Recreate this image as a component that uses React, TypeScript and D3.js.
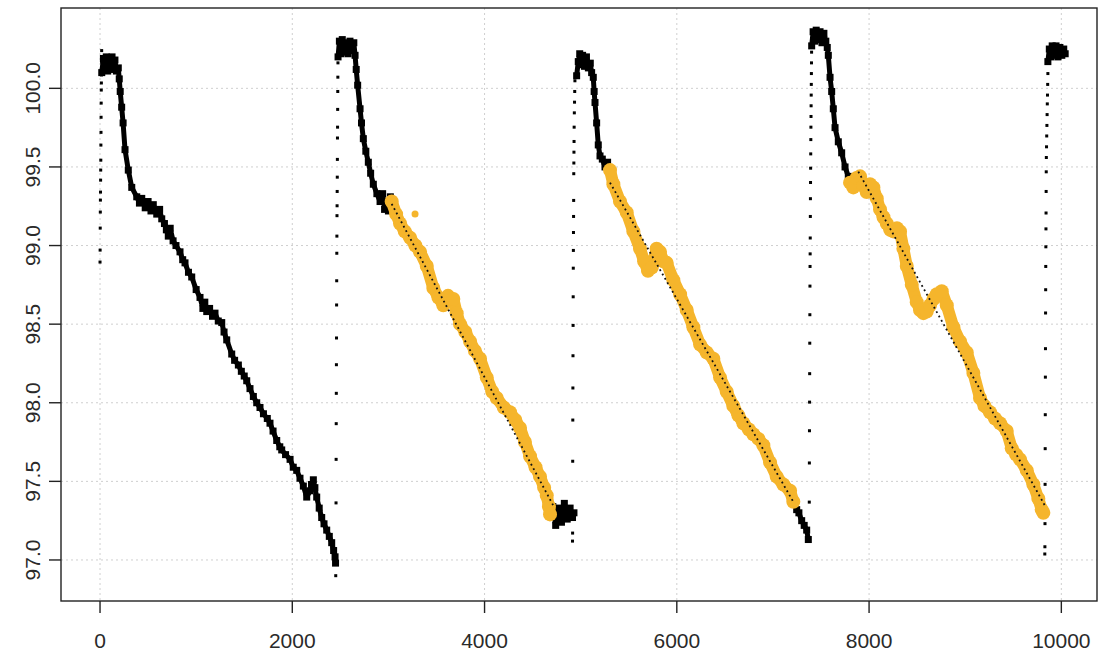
import React from "react";
import * as d3 from "d3";

// ---- tick values ----
const xTicks = [0, 2000, 4000, 6000, 8000, 10000];
const yTicks = [97.0, 97.5, 98.0, 98.5, 99.0, 99.5, 100.0];

// ---- sparse rising points (fast transitions) ----
const rise1: [number, number][] = [
  [0, 98.895], [1, 98.971], [2, 99.111], [3, 99.213], [4, 99.289], [5, 99.34], [6, 99.416], [7, 99.48],
  [8, 99.543], [9, 99.639], [10, 99.72], [11, 99.816], [12, 99.906], [13, 99.989], [14, 100.034],
  [15, 100.085], [16, 100.129], [17, 100.167], [17, 100.24],
];
const rise2: [number, number][] = [
  [2452, 96.9], [2455, 97.363], [2456, 97.64], [2457, 97.867], [2458, 98.06], [2459, 98.242],
  [2460, 98.412], [2461, 98.622], [2462, 98.776], [2463, 98.951], [2464, 99.06], [2465, 99.19],
  [2466, 99.253], [2467, 99.344], [2468, 99.435], [2469, 99.548], [2470, 99.684], [2471, 99.753],
  [2472, 99.866], [2473, 99.98], [2474, 100.071], [2475, 100.162], [2476, 100.207],
];
const rise3: [number, number][] = [
  [4915, 97.12], [4916, 97.171], [4917, 97.628], [4918, 97.89], [4919, 98.094], [4920, 98.299],
  [4921, 98.492], [4922, 98.674], [4923, 98.856], [4924, 98.969], [4925, 99.083], [4926, 99.185],
  [4927, 99.287], [4928, 99.457], [4929, 99.525], [4930, 99.594], [4931, 99.662], [4932, 99.753],
  [4934, 99.844], [4936, 99.912], [4938, 99.98], [4940, 100.048],
];
const rise4: [number, number][] = [
  [7378, 97.368], [7379, 97.617], [7380, 97.822], [7381, 98.004], [7382, 98.185], [7383, 98.379],
  [7384, 98.56], [7385, 98.742], [7386, 98.867], [7387, 98.947], [7388, 99.048], [7389, 99.185],
  [7390, 99.298], [7391, 99.401], [7392, 99.492], [7393, 99.583], [7394, 99.674], [7395, 99.753],
  [7396, 99.821], [7397, 99.889], [7398, 99.957], [7399, 100.025], [7400, 100.094], [7401, 100.162],
  [7402, 100.23],
];
const rise5: [number, number][] = [
  [9828, 97.038], [9829, 97.084], [9830, 97.231], [9831, 97.481], [9832, 97.708], [9833, 97.924],
  [9834, 98.163], [9835, 98.344], [9836, 98.571], [9837, 98.719], [9838, 98.867], [9839, 98.992],
  [9840, 99.106], [9841, 99.207], [9842, 99.344], [9843, 99.469], [9844, 99.56], [9846, 99.628],
  [9848, 99.697], [9850, 99.764], [9852, 99.833], [9854, 99.901], [9856, 99.957], [9858, 100.025],
  [9860, 100.094], [9862, 100.162],
];

// ---- black traces (plateau + decline) ----
const black1: [number, number][] = [
  [18, 100.1], [35, 100.19], [50, 100.12], [65, 100.2], [80, 100.11], [95, 100.18], [110, 100.13],
  [125, 100.2], [140, 100.12], [155, 100.18], [170, 100.11], [190, 100.13], [200, 100.06], [210, 99.98],
  [225, 99.88], [240, 99.78], [260, 99.61], [294, 99.48], [330, 99.37], [382, 99.31], [410, 99.27],
  [434, 99.3], [470, 99.24], [500, 99.28], [530, 99.22], [554, 99.26], [590, 99.2], [620, 99.23],
  [642, 99.17], [670, 99.14], [690, 99.1], [710, 99.06], [730, 99.11], [760, 99.03], [790, 99.0],
  [832, 98.96], [860, 98.91], [884, 98.89], [920, 98.83], [954, 98.8], [1000, 98.72], [1040, 98.67],
  [1070, 98.6], [1090, 98.64], [1110, 98.58], [1140, 98.6], [1170, 98.55], [1196, 98.57], [1230, 98.52],
  [1266, 98.51], [1290, 98.45], [1318, 98.4], [1370, 98.31], [1400, 98.27], [1439, 98.24], [1470, 98.2],
  [1500, 98.17], [1526, 98.14], [1560, 98.09], [1595, 98.04], [1630, 98.0], [1664, 97.97], [1700, 97.93],
  [1740, 97.9], [1768, 97.87], [1800, 97.82], [1838, 97.76], [1870, 97.72], [1890, 97.7], [1930, 97.67],
  [1977, 97.64], [2010, 97.59], [2046, 97.57], [2080, 97.52], [2115, 97.47], [2150, 97.4], [2185, 97.44],
  [2200, 97.48], [2219, 97.51], [2235, 97.46], [2254, 97.4], [2280, 97.33], [2306, 97.27], [2330, 97.23],
  [2358, 97.19], [2385, 97.15], [2410, 97.11], [2430, 97.06], [2445, 97.02], [2450, 96.98],
];
const black2: [number, number][] = [
  [2476, 100.2], [2490, 100.3], [2505, 100.22], [2520, 100.31], [2540, 100.23], [2560, 100.29],
  [2580, 100.22], [2600, 100.3], [2620, 100.24], [2640, 100.29], [2653, 100.21], [2665, 100.12],
  [2680, 100.02], [2705, 99.87], [2720, 99.78], [2739, 99.68], [2765, 99.6], [2791, 99.53], [2815, 99.46],
  [2843, 99.39], [2880, 99.33], [2913, 99.28], [2940, 99.33], [2960, 99.23], [2982, 99.28], [3000, 99.22],
  [3020, 99.31], [3034, 99.28],
];
const black2b: [number, number][] = [
  [4681, 97.29], [4710, 97.34], [4740, 97.22], [4770, 97.33], [4800, 97.24], [4830, 97.36], [4860, 97.26],
  [4890, 97.33], [4915, 97.27], [4930, 97.3],
];
const black3: [number, number][] = [
  [4958, 100.08], [4975, 100.17], [4990, 100.22], [5005, 100.15], [5020, 100.21], [5040, 100.14],
  [5060, 100.2], [5080, 100.13], [5100, 100.16], [5114, 100.1], [5131, 100.07], [5140, 99.98],
  [5149, 99.91], [5166, 99.78], [5183, 99.64], [5201, 99.57], [5225, 99.55], [5253, 99.5], [5280, 99.53],
  [5305, 99.48],
];
const black3b: [number, number][] = [
  [7212, 97.37], [7247, 97.32], [7270, 97.3], [7299, 97.25], [7325, 97.22], [7351, 97.19], [7368, 97.13],
];
const black4: [number, number][] = [
  [7403, 100.27], [7418, 100.36], [7435, 100.3], [7450, 100.37], [7470, 100.31], [7490, 100.36],
  [7510, 100.29], [7530, 100.35], [7550, 100.3], [7565, 100.26], [7576, 100.21], [7594, 100.07],
  [7611, 99.98], [7628, 99.87], [7646, 99.75], [7680, 99.66], [7715, 99.59], [7750, 99.5], [7784, 99.44],
  [7802, 99.4],
];
const black5: [number, number][] = [
  [9860, 100.17], [9875, 100.25], [9890, 100.2], [9905, 100.27], [9925, 100.21], [9945, 100.27],
  [9965, 100.2], [9985, 100.26], [10005, 100.21], [10025, 100.25], [10040, 100.22],
];

// ---- highlighted (orange) declines ----
const orange2: [number, number][] = [
  [3034, 99.28], [3080, 99.2], [3121, 99.14], [3170, 99.09], [3225, 99.05], [3280, 99.0], [3329, 98.96],
  [3399, 98.87], [3467, 98.73], [3520, 98.67], [3571, 98.62], [3620, 98.68], [3675, 98.66], [3710, 98.57],
  [3745, 98.5], [3800, 98.45], [3849, 98.39], [3900, 98.33], [3953, 98.28], [4023, 98.16], [4080, 98.07],
  [4127, 98.03], [4200, 97.97], [4265, 97.94], [4320, 97.89], [4369, 97.84], [4420, 97.75], [4473, 97.66],
  [4530, 97.59], [4577, 97.53], [4620, 97.46], [4647, 97.41], [4670, 97.34], [4681, 97.29],
];
const orange3: [number, number][] = [
  [5305, 99.48], [5340, 99.39], [5409, 99.28], [5479, 99.21], [5548, 99.09], [5617, 98.98], [5660, 98.9],
  [5700, 98.84], [5740, 98.86], [5790, 98.98], [5825, 98.96], [5860, 98.9], [5895, 98.89], [5964, 98.78],
  [6034, 98.69], [6103, 98.59], [6172, 98.48], [6242, 98.37], [6311, 98.32], [6380, 98.28], [6450, 98.16],
  [6519, 98.07], [6588, 97.98], [6640, 97.92], [6692, 97.87], [6750, 97.83], [6796, 97.8], [6850, 97.77],
  [6900, 97.73], [6970, 97.62], [7039, 97.53], [7108, 97.48], [7178, 97.44], [7212, 97.37],
];
const orange4: [number, number][] = [
  [7802, 99.4], [7836, 99.37], [7870, 99.43], [7906, 99.44], [7940, 99.38], [7975, 99.34], [8010, 99.39],
  [8045, 99.37], [8080, 99.3], [8114, 99.23], [8150, 99.18], [8184, 99.14], [8220, 99.1], [8253, 99.09],
  [8290, 99.11], [8322, 99.09], [8357, 98.98], [8392, 98.87], [8444, 98.75], [8496, 98.64], [8530, 98.59],
  [8565, 98.57], [8600, 98.58], [8634, 98.62], [8670, 98.66], [8704, 98.69], [8756, 98.71], [8808, 98.62],
  [8877, 98.48], [8946, 98.39], [9016, 98.32], [9085, 98.19], [9154, 98.03], [9200, 97.98], [9258, 97.94],
  [9310, 97.9], [9362, 97.87], [9432, 97.82], [9484, 97.71], [9530, 97.67], [9570, 97.64], [9640, 97.57],
  [9709, 97.48], [9761, 97.39], [9796, 97.32], [9813, 97.3],
];
const orangeOutliers: [number, number][] = [[3277, 99.2]];

// ---- fitted lines over the highlighted parts ----
const fit2: [number, number][] = [[3034, 99.265], [4716, 97.345]];
const fit3: [number, number][] = [[5305, 99.4], [7212, 97.37]];
const fit4: [number, number][] = [[7888, 99.47], [9830, 97.345]];

const W = 1099;
const H = 659;
const M = { left: 61, right: 1097, top: 8, bottom: 601 };

export default function App() {
  const x = d3.scaleLinear().domain([-406, 10371]).range([M.left, M.right]);
  const y = d3.scaleLinear().domain([96.739, 100.511]).range([M.bottom, M.top]);
  const line = d3
    .line<[number, number]>()
    .x((d) => x(d[0]))
    .y((d) => y(d[1]));

  const blacks = [black1, black2, black2b, black3, black3b, black4, black5];
  const oranges = [orange2, orange3, orange4];
  const rises = [rise1, rise2, rise3, rise4, rise5];
  const fits = [fit2, fit3, fit4];
  const ORANGE = "#F5B52C";
  const font = "'Liberation Sans', Arial, Helvetica, sans-serif";

  return (
    <svg
      width={W}
      height={H}
      style={{ position: "absolute", left: 0, top: 0, background: "#fff" }}
    >
      <rect x={0} y={0} width={W} height={H} fill="#fff" />
      {/* grid */}
      <g stroke="#cfcfcf" strokeWidth={1} strokeDasharray="2,3">
        {xTicks.map((t) => (
          <line key={"gx" + t} x1={x(t)} x2={x(t)} y1={M.top} y2={M.bottom} />
        ))}
        {yTicks.map((t) => (
          <line key={"gy" + t} x1={M.left} x2={M.right} y1={y(t)} y2={y(t)} />
        ))}
      </g>

      {/* black traces */}
      <g fill="none" stroke="#000" strokeWidth={5} strokeLinejoin="round" strokeLinecap="round">
        {blacks.map((s, i) => (
          <path key={"b" + i} d={line(s) || ""} />
        ))}
      </g>
      <g fill="#000">
        {blacks.map((s, i) =>
          s.map((d, j) => (
            <rect key={"bp" + i + "-" + j} x={x(d[0]) - 3.5} y={y(d[1]) - 3.5} width={7} height={7} />
          ))
        )}
      </g>

      {/* orange highlighted */}
      <g fill="none" stroke={ORANGE} strokeWidth={12} strokeLinejoin="round" strokeLinecap="round">
        {oranges.map((s, i) => (
          <path key={"o" + i} d={line(s) || ""} />
        ))}
      </g>
      <g fill={ORANGE}>
        {oranges.map((s, i) =>
          s.map((d, j) => <circle key={"op" + i + "-" + j} cx={x(d[0])} cy={y(d[1])} r={7} />)
        )}
        {orangeOutliers.map((d, j) => (
          <circle key={"oo" + j} cx={x(d[0])} cy={y(d[1])} r={3.5} />
        ))}
      </g>

      {/* rising points */}
      <g fill="#000">
        {rises.map((s, i) =>
          s.map((d, j) => (
            <rect key={"r" + i + "-" + j} x={x(d[0]) - 1.5} y={y(d[1]) - 1.5} width={3} height={3} />
          ))
        )}
      </g>

      {/* fitted dotted lines */}
      <g fill="none" stroke="#111" strokeWidth={1.8} strokeDasharray="1.8,3.2">
        {fits.map((s, i) => (
          <path key={"f" + i} d={line(s) || ""} />
        ))}
      </g>

      {/* box */}
      <rect
        x={M.left}
        y={M.top}
        width={M.right - M.left}
        height={M.bottom - M.top}
        fill="none"
        stroke="#222"
        strokeWidth={1.4}
      />

      {/* axes ticks */}
      <g stroke="#222" strokeWidth={1.4}>
        {xTicks.map((t) => (
          <line key={"tx" + t} x1={x(t)} x2={x(t)} y1={M.bottom} y2={M.bottom + 12} />
        ))}
        {yTicks.map((t) => (
          <line key={"ty" + t} x1={M.left - 12} x2={M.left} y1={y(t)} y2={y(t)} />
        ))}
      </g>
      <g fontFamily={font} fontSize={21} fill="#2a2a2a" textAnchor="middle">
        {xTicks.map((t) => (
          <text key={"lx" + t} x={x(t)} y={648}>
            {String(t)}
          </text>
        ))}
        {yTicks.map((t) => (
          <text key={"ly" + t} transform={`translate(39.5, ${y(t)}) rotate(-90)`}>
            {t.toFixed(1)}
          </text>
        ))}
      </g>
    </svg>
  );
}
